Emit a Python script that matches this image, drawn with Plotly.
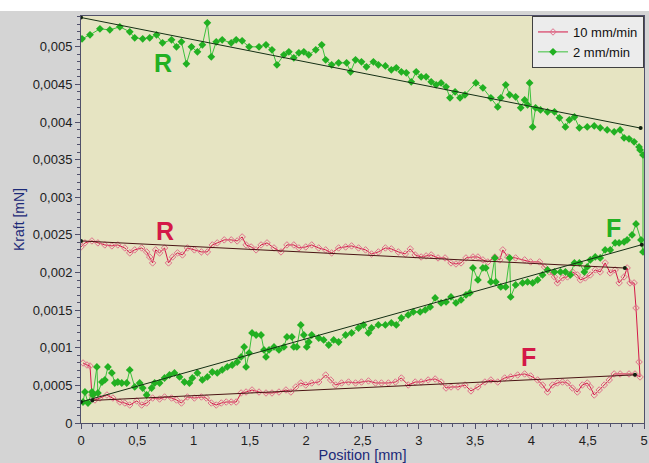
import plotly.graph_objects as go

# ---------------- data (Position [mm], Kraft [mN]) ----------------
# 2 mm/min : upper branch (R) left->right, then lower branch (F) right->left
g_upper_x = [0.009,0.080,0.168,0.256,0.345,0.433,0.477,0.548,0.610,0.671,0.724,0.804,0.848,0.892,0.936,0.981,1.034,1.078,1.122,1.157,
             1.201,1.254,1.334,1.378,1.431,1.493,1.581,1.643,1.696,1.740,1.802,1.846,1.890,1.935,1.979,2.023,2.085,2.138,2.173,2.226,
             2.288,2.359,2.394,2.438,2.491,2.535,2.597,2.641,2.703,2.756,2.800,2.845,2.889,2.933,2.977,3.021,3.065,3.110,3.154,3.198,
             3.242,3.277,3.322,3.366,3.410,3.507,3.569,3.640,3.701,3.728,3.772,3.807,3.860,3.905,3.940,3.966,3.984,4.011,4.037,4.081,
             4.143,4.205,4.249,4.302,4.337,4.382,4.426,4.496,4.558,4.611,4.673,4.735,4.788,4.823,4.867,4.912,4.956,4.965,4.991]
g_upper_y = [0.005106,0.005160,0.005239,0.005226,0.005266,0.005200,0.005120,0.005106,0.005120,0.005160,0.005053,0.005093,0.005000,0.005067,0.004774,0.005000,0.004934,0.005027,0.005319,0.004867,
             0.005067,0.005093,0.005053,0.005093,0.005080,0.005000,0.005000,0.005027,0.004960,0.004761,0.004894,0.004934,0.004854,0.004920,0.004934,0.004894,0.004960,0.005027,0.004827,0.004761,
             0.004787,0.004787,0.004668,0.004827,0.004801,0.004734,0.004801,0.004761,0.004747,0.004694,0.004721,0.004668,0.004654,0.004535,0.004668,0.004601,0.004601,0.004535,0.004495,0.004521,
             0.004468,0.004322,0.004402,0.004322,0.004362,0.004521,0.004455,0.004322,0.004202,0.004322,0.004495,0.004362,0.004335,0.004189,0.004295,0.004229,0.004521,0.003936,0.004189,0.004162,
             0.004136,0.004136,0.004056,0.003936,0.004029,0.004069,0.003923,0.003936,0.003949,0.003923,0.003896,0.003870,0.003896,0.003790,0.003777,0.003737,0.003670,0.003630,0.003564]
g_lower_x = [4.991,4.973,4.929,4.894,4.850,4.823,4.779,4.744,4.700,4.655,4.611,4.567,4.523,4.496,4.470,4.426,4.382,4.346,4.302,4.258,
             4.205,4.143,4.099,4.055,4.011,3.966,3.922,3.860,3.816,3.807,3.772,3.728,3.684,3.675,3.640,3.595,3.569,3.525,3.481,3.454,
             3.419,3.375,3.330,3.286,3.242,3.198,3.145,3.101,3.057,3.012,2.951,2.906,2.845,2.800,2.756,2.703,2.641,2.580,2.553,2.509,
             2.465,2.403,2.350,2.288,2.244,2.200,2.155,2.111,2.049,2.023,2.005,1.979,1.952,1.917,1.890,1.873,1.829,1.802,1.758,1.714,
             1.670,1.643,1.625,1.599,1.555,1.519,1.493,1.466,1.449,1.422,1.387,1.343,1.299,1.254,1.210,1.166,1.122,1.078,1.034,0.989,
             0.963,0.919,0.875,0.830,0.786,0.742,0.698,0.654,0.627,0.583,0.548,0.521,0.477,0.433,0.406,0.362,0.327,0.300,0.274,0.239,
             0.212,0.186,0.150,0.141,0.106,0.097,0.062,0.035,0.018]
g_lower_y = [0.002274,0.002434,0.002646,0.002500,0.002434,0.002407,0.002394,0.002394,0.002301,0.002301,0.002194,0.002207,0.002168,0.002074,0.002008,0.002128,0.002128,0.001968,0.002008,0.002008,
             0.002008,0.002035,0.001968,0.001902,0.001862,0.001875,0.001862,0.001835,0.001676,0.002194,0.001809,0.001809,0.001875,0.002194,0.001875,0.002061,0.002061,0.001902,0.002061,0.001729,
             0.001702,0.001636,0.001596,0.001676,0.001609,0.001596,0.001662,0.001543,0.001503,0.001476,0.001476,0.001436,0.001396,0.001303,0.001330,0.001303,0.001303,0.001263,0.001197,0.001303,
             0.001263,0.001197,0.001170,0.001077,0.001104,0.001037,0.001104,0.001130,0.001170,0.001077,0.001011,0.001170,0.001303,0.001011,0.001011,0.001144,0.001144,0.001011,0.000971,0.001011,
             0.000971,0.000878,0.000971,0.001170,0.001170,0.001197,0.000931,0.000745,0.001011,0.000878,0.000811,0.000771,0.000745,0.000705,0.000665,0.000678,0.000612,0.000572,0.000665,0.000598,
             0.000532,0.000545,0.000612,0.000665,0.000638,0.000598,0.000532,0.000532,0.000465,0.000372,0.000465,0.000532,0.000479,0.000705,0.000532,0.000532,0.000545,0.000532,0.000665,0.000745,
             0.000572,0.000545,0.000399,0.000745,0.000372,0.000412,0.000266,0.000412,0.000279]

# 10 mm/min : upper branch (R) left->right, then lower branch (F) right->left
r_upper_x = [0.000,0.035,0.097,0.150,0.212,0.274,0.327,0.389,0.433,0.477,0.539,0.583,0.610,0.636,0.663,0.698,0.742,0.777,0.813,0.857,
             0.901,0.945,1.007,1.069,1.122,1.166,1.210,1.272,1.334,1.387,1.431,1.466,1.511,1.555,1.599,1.652,1.714,1.776,1.829,1.890,
             1.935,1.996,2.049,2.111,2.173,2.226,2.288,2.350,2.403,2.465,2.527,2.580,2.641,2.703,2.756,2.818,2.880,2.924,2.968,3.021,
             3.065,3.110,3.171,3.233,3.286,3.330,3.375,3.419,3.481,3.525,3.569,3.613,3.675,3.719,3.746,3.790,3.860,3.940,3.993,4.072,
             4.117,4.161,4.205,4.231,4.276,4.320,4.364,4.408,4.435,4.479,4.523,4.567,4.611,4.655,4.700,4.744,4.779,4.823,4.850,4.876,
             4.912,4.929,4.956,4.965]
r_upper_y = [0.002340,0.002394,0.002420,0.002394,0.002367,0.002354,0.002367,0.002327,0.002261,0.002301,0.002327,0.002274,0.002207,0.002128,0.002301,0.002261,0.002327,0.002128,0.002207,0.002261,
             0.002234,0.002327,0.002301,0.002274,0.002274,0.002367,0.002394,0.002434,0.002434,0.002420,0.002473,0.002367,0.002340,0.002301,0.002367,0.002394,0.002327,0.002274,0.002367,0.002367,
             0.002327,0.002340,0.002367,0.002327,0.002301,0.002261,0.002327,0.002340,0.002354,0.002327,0.002301,0.002247,0.002274,0.002327,0.002314,0.002274,0.002247,0.002314,0.002234,0.002207,
             0.002221,0.002234,0.002194,0.002194,0.002128,0.002114,0.002128,0.002194,0.002207,0.002207,0.002168,0.002141,0.002207,0.002168,0.002301,0.002207,0.002194,0.002168,0.002141,0.002141,
             0.002074,0.002008,0.001942,0.001862,0.001928,0.001942,0.002008,0.001968,0.001902,0.001928,0.001968,0.002035,0.002008,0.002128,0.001995,0.002035,0.001862,0.001942,0.002061,0.001862,
             0.001862,0.001529,0.000811,0.000612]
r_lower_x = [4.920,4.867,4.788,4.735,4.691,4.647,4.602,4.558,4.523,4.496,4.452,4.408,4.364,4.320,4.276,4.231,4.187,4.143,4.099,4.055,
             3.993,3.940,3.878,3.816,3.763,3.701,3.640,3.587,3.525,3.463,3.410,3.348,3.286,3.242,3.198,3.145,3.083,3.021,2.968,2.906,
             2.845,2.792,2.730,2.668,2.615,2.553,2.491,2.438,2.376,2.314,2.261,2.217,2.173,2.111,2.049,1.996,1.952,1.908,1.864,1.820,
             1.758,1.696,1.643,1.581,1.519,1.466,1.422,1.378,1.334,1.290,1.246,1.201,1.157,1.113,1.069,1.007,0.945,0.892,0.848,0.804,
             0.742,0.698,0.636,0.583,0.539,0.495,0.433,0.389,0.345,0.283,0.230,0.168,0.124,0.097,0.080,0.053,0.018]
r_lower_y = [0.000652,0.000652,0.000652,0.000652,0.000572,0.000505,0.000439,0.000372,0.000479,0.000532,0.000505,0.000412,0.000465,0.000532,0.000545,0.000532,0.000505,0.000412,0.000505,0.000572,
             0.000625,0.000652,0.000638,0.000612,0.000598,0.000545,0.000572,0.000545,0.000479,0.000426,0.000505,0.000479,0.000479,0.000465,0.000545,0.000585,0.000572,0.000545,0.000545,0.000505,
             0.000598,0.000545,0.000532,0.000532,0.000532,0.000559,0.000545,0.000532,0.000545,0.000532,0.000505,0.000572,0.000638,0.000545,0.000532,0.000505,0.000532,0.000479,0.000412,0.000439,
             0.000412,0.000399,0.000399,0.000412,0.000439,0.000412,0.000399,0.000279,0.000279,0.000279,0.000266,0.000239,0.000266,0.000332,0.000346,0.000332,0.000346,0.000266,0.000306,0.000332,
             0.000346,0.000319,0.000332,0.000266,0.000239,0.000293,0.000239,0.000266,0.000279,0.000332,0.000372,0.000332,0.000306,0.000372,0.000758,0.000771,0.000798]

# linear fits (end points)
g_R_fit_x = [0.0, 4.97]; g_R_fit_y = [0.00539, 0.00392]
g_F_fit_x = [0.0, 4.98]; g_F_fit_y = [0.00028, 0.00237]
r_R_fit_x = [0.0, 4.83]; r_R_fit_y = [0.00242, 0.00206]
r_F_fit_x = [0.10, 4.92]; r_F_fit_y = [0.00030, 0.00064]

series_names = ["10 mm/min", "2 mm/min"]
y_tick_vals = [0, 0.0005, 0.001, 0.0015, 0.002, 0.0025, 0.003, 0.0035, 0.004, 0.0045, 0.005]
y_tick_text = ["0", "0,0005", "0,001", "0,0015", "0,002", "0,0025", "0,003", "0,0035", "0,004", "0,0045", "0,005"]
x_tick_vals = [0, 0.5, 1, 1.5, 2, 2.5, 3, 3.5, 4, 4.5, 5]
x_tick_text = ["0", "0,5", "1", "1,5", "2", "2,5", "3", "3,5", "4", "4,5", "5"]

# ---------------- figure ----------------
GREEN = "#22b022"
GREEN_L = "#3cc03c"
RED = "#d41848"
RED_M = "#e0708c"
FONT = "Liberation Sans, Arial, sans-serif"

fig = go.Figure()

fig.add_trace(go.Scatter(
    x=r_upper_x + r_lower_x, y=r_upper_y + r_lower_y, name=series_names[0],
    mode="lines+markers",
    line=dict(color=RED, width=1),
    marker=dict(symbol="diamond-open", size=5, color=RED_M, line=dict(width=1, color=RED_M)),
))
fig.add_trace(go.Scatter(
    x=g_upper_x + g_lower_x, y=g_upper_y + g_lower_y, name=series_names[1],
    mode="lines+markers",
    line=dict(color=GREEN_L, width=1),
    marker=dict(symbol="diamond", size=6, color=GREEN, line=dict(width=0)),
))

for fx, fy, col in [(r_R_fit_x, r_R_fit_y, "#4a1414"), (r_F_fit_x, r_F_fit_y, "#4a1414"),
                    (g_R_fit_x, g_R_fit_y, "#143014"), (g_F_fit_x, g_F_fit_y, "#143014")]:
    fig.add_trace(go.Scatter(x=fx, y=fy, mode="lines+markers", showlegend=False,
                             line=dict(color=col, width=1),
                             marker=dict(symbol="circle", size=4, color="#102010")))

labels = [("R", 0.729, 0.00479, GREEN), ("F", 4.726, 0.00259, GREEN),
          ("R", 0.742, 0.00255, RED), ("F", 3.975, 0.00088, RED)]
for t, lx, ly, c in labels:
    fig.add_annotation(x=lx, y=ly, text="<b>%s</b>" % t, showarrow=False,
                       font=dict(family=FONT, size=25, color=c))

# white strip at very top of image
fig.add_shape(type="rect", xref="paper", yref="paper", x0=-0.15, x1=1.01, y0=1.0123, y1=1.05,
              fillcolor="white", line=dict(width=0), layer="above")

axis_common = dict(showgrid=False, zeroline=False, showline=True, linecolor="#50506a", linewidth=1,
                   mirror=True, ticks="outside", ticklen=5, tickcolor="#50506a",
                   ticklabeloverflow="allow",
                   tickfont=dict(family=FONT, size=13, color="#202020"))

fig.update_layout(
    width=649, height=463,
    margin=dict(l=81, r=1, t=16, b=40),
    paper_bgcolor="#d4d4d4",
    plot_bgcolor="#e6e4c2",
    font=dict(family=FONT, size=12),
    showlegend=True,
    legend=dict(x=1, y=1, xanchor="right", yanchor="top", bgcolor="#ececec",
                bordercolor="#404040", borderwidth=1, font=dict(family=FONT, size=13, color="#101010"),
                itemwidth=30, tracegroupgap=0),
    xaxis=dict(range=[0, 5], tickvals=x_tick_vals, ticktext=x_tick_text,
               minor=dict(dtick=0.1, ticklen=3, ticks="outside", tickcolor="#50506a"),
               title=dict(text="Position [mm]", standoff=3, font=dict(family=FONT, size=14.5, color="#1c2a78")),
               **axis_common),
    yaxis=dict(range=[0, 0.00541], tickvals=y_tick_vals, ticktext=y_tick_text,
               minor=dict(dtick=0.0001, ticklen=3, ticks="outside", tickcolor="#50506a"),
               title=dict(text="Kraft [mN]", standoff=4, font=dict(family=FONT, size=14, color="#1c2a78")),
               **axis_common),
)

fig.write_html("out.html", config={"displayModeBar": False})

# remove the default page margin so the figure sits at the window origin
with open("out.html", "r", encoding="utf-8") as f:
    html = f.read()
html = html.replace("<head>", "<head><style>html,body{margin:0;padding:0;overflow:hidden;}</style>", 1)
with open("out.html", "w", encoding="utf-8") as f:
    f.write(html)
